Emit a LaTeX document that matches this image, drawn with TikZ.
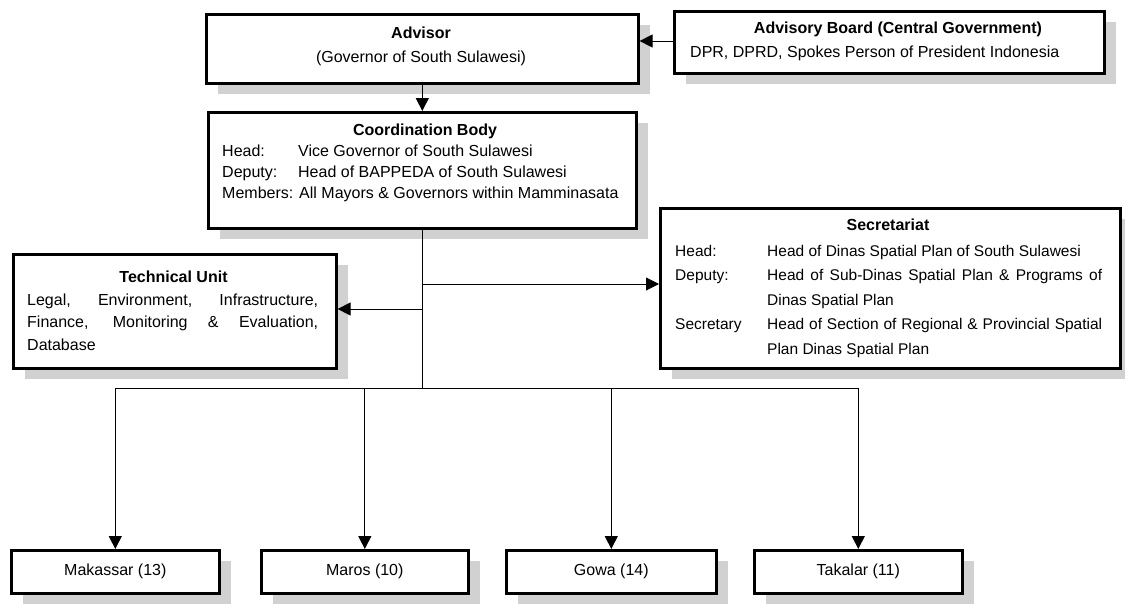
\documentclass[tikz,border=0pt]{standalone}
\usepackage{fontspec}
\setmainfont{Liberation Sans}
\usetikzlibrary{arrows.meta,shadows}
\tikzset{
  box/.style={draw, line width=2.6pt, fill=white, inner sep=0pt, anchor=north west,
    drop shadow={shadow xshift=12pt, shadow yshift=-11pt, fill=black!18, opacity=1}},
  conn/.style={line width=0.95pt},
  arr/.style={conn, -{Triangle[length=13pt,width=13pt]}},
  txt/.style={inner sep=0pt, font=\fontsize{16}{19}\selectfont},
  stxt/.style={inner sep=0pt, font=\fontsize{15.5}{19}\selectfont},
  ttl/.style={txt, anchor=base, font=\fontsize{16}{19}\selectfont\bfseries},
  bottombox/.style={box, minimum width=208pt, minimum height=43pt, font=\fontsize{16}{19}\selectfont},
}
\begin{document}
\begin{tikzpicture}[x=1pt,y=-1pt]
\useasboundingbox (0,0) rectangle (1125,603);

% ---------- boxes ----------
\node[box, minimum width=432pt, minimum height=69pt] (adv) at (205,13) {};
\node[box, minimum width=430pt, minimum height=62pt] (board) at (673,10) {};
\node[box, minimum width=428pt, minimum height=116pt] (cb) at (207,111) {};
\node[box, minimum width=323pt, minimum height=114pt] (tu) at (12,253) {};
\node[box, minimum width=460pt, minimum height=160pt] (sec) at (659,207) {};

\node[bottombox] (mak) at (10,549) {Makassar (13)};
\node[bottombox, minimum width=207pt] (mar) at (260,549) {Maros (10)};
\node[bottombox, minimum width=210pt] (gow) at (505,549) {Gowa (14)};
\node[bottombox] (tak) at (753,549) {Takalar (11)};

% ---------- texts ----------
\node[ttl] (advT) at (421,38) {Advisor};
\node[txt, anchor=base] (advS) at (421,62) {(Governor of South Sulawesi)};

\node[ttl] (boardT) at (898,33) {Advisory Board (Central Government)};
\node[txt, anchor=base west] (boardS) at (690,57) {DPR, DPRD, Spokes Person of President Indonesia};

\node[ttl] (cbT) at (425,135) {Coordination Body};
\node[txt, anchor=base west] (cb1) at (222,156.5) {\makebox[76pt][l]{Head:}Vice Governor of South Sulawesi};
\node[txt, anchor=base west] (cb2) at (222,177.5) {\makebox[76pt][l]{Deputy:}Head of BAPPEDA of South Sulawesi};
\node[txt, anchor=base west] (cb3) at (222,198.5) {Members: All Mayors \& Governors within Mamminasata};

\node[ttl] (tuT) at (173.5,282) {Technical Unit};
\node[txt, anchor=base west] (tu1) at (27,305) {\makebox[291pt][s]{Legal, Environment, Infrastructure,}};
\node[txt, anchor=base west] (tu2) at (27,327.5) {\makebox[291pt][s]{Finance, Monitoring \& Evaluation,}};
\node[txt, anchor=base west] (tu3) at (27,350) {Database};

\node[ttl] (secT) at (888,230) {Secretariat};
\node[stxt, anchor=base west] (sl1) at (675,256) {Head:};
\node[stxt, anchor=base west] (sv1) at (767,256) {Head of Dinas Spatial Plan of South Sulawesi};
\node[stxt, anchor=base west] (sl2) at (675,280.5) {Deputy:};
\node[stxt, anchor=base west] (sv2) at (767,280.5) {\makebox[335pt][s]{Head of Sub-Dinas Spatial Plan \& Programs of}};
\node[stxt, anchor=base west] (sv2b) at (767,305) {Dinas Spatial Plan};
\node[stxt, anchor=base west] (sl3) at (675,329.5) {Secretary};
\node[stxt, anchor=base west] (sv3) at (767,329.5) {\makebox[335pt][s]{Head of Section of Regional \& Provincial Spatial}};
\node[stxt, anchor=base west] (sv3b) at (767,354) {Plan Dinas Spatial Plan};

% ---------- connectors ----------
\coordinate (bus) at (0,388);
\coordinate (secy) at (0,284);
\coordinate (tuy) at (0,309);
\coordinate (boardy) at (0,41);

\draw[arr] (board.west |- boardy) -- (adv.east |- boardy);
\draw[arr] (adv.south) -- (cb.north);
\draw[conn] (cb.south) -- (cb.south |- bus);
\draw[arr] (cb.south |- secy) -- (sec.west |- secy);
\draw[arr] (cb.south |- tuy) -- (tu.east |- tuy);
\draw[conn] (mak.north |- bus) -- (tak.north |- bus);
\foreach \n in {mak,mar,gow,tak}
  \draw[arr] (\n.north |- bus) -- (\n.north);
\end{tikzpicture}
\end{document}
